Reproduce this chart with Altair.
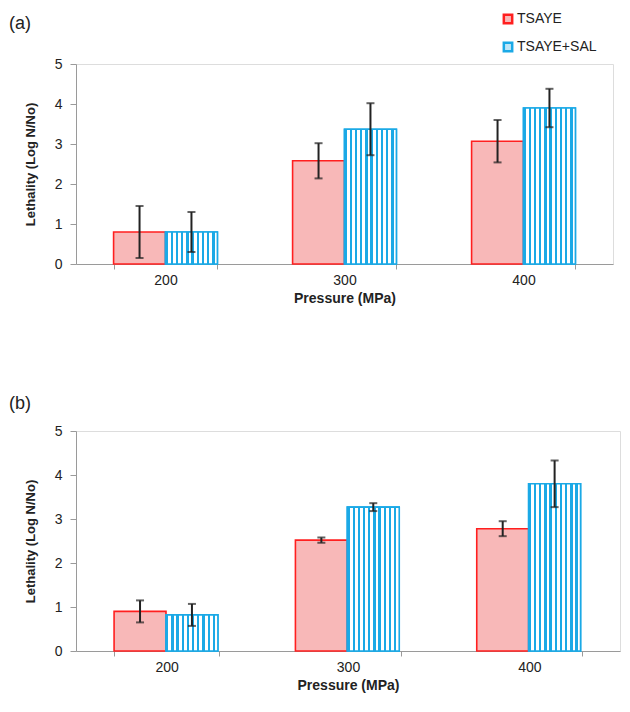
import altair as alt
import pandas as pd

pressure = ["200", "300", "400"]
series_names = ["TSAYE", "TSAYE+SAL"]

a_tsaye = [0.80, 2.58, 3.07]
a_tsaye_err = [0.65, 0.44, 0.53]
a_sal = [0.80, 3.37, 3.90]
a_sal_err = [0.50, 0.65, 0.48]

b_tsaye = [0.90, 2.52, 2.78]
b_tsaye_err = [0.25, 0.06, 0.17]
b_sal = [0.82, 3.27, 3.80]
b_sal_err = [0.25, 0.09, 0.53]

FONT = "Liberation Sans"
RED = "#ff1f1f"
PINK = "#f8b8b8"
BLUE = "#1ba9e6"

# vertical stripes for the blue bars
n = 10
stops = []
for i in range(n):
    a = i / n
    b = a + 0.45 / n
    c = (i + 1) / n
    stops += [
        alt.GradientStop(color=BLUE, offset=a),
        alt.GradientStop(color=BLUE, offset=b),
        alt.GradientStop(color="white", offset=b),
        alt.GradientStop(color="white", offset=c),
    ]
stripes = alt.LinearGradient(gradient="linear", stops=stops, x1=0, x2=1, y1=0, y2=0)


def make_df(t, te, s, se):
    rows = []
    for p, v, e in zip(pressure, t, te):
        rows.append({"p": p, "series": "TSAYE", "v": v, "lo": v - e, "hi": v + e})
    for p, v, e in zip(pressure, s, se):
        rows.append({"p": p, "series": "TSAYE+SAL", "v": v, "lo": v - e, "hi": v + e})
    return pd.DataFrame(rows)


def panel(label, df, w, h, title_offset, legend_x, legend_y):
    x = alt.X("p:N", title="Pressure (MPa)", sort=pressure,
              scale=alt.Scale(paddingInner=0.42, paddingOuter=0.21),
              axis=alt.Axis(labelAngle=0, tickBand="extent", tickSize=5,
                            domainColor="#9a9a9a", tickColor="#9a9a9a",
                            labelFontSize=14, labelColor="#222", labelPadding=4,
                            titleFontSize=14, titleFontWeight="bold",
                            titleColor="#222", titlePadding=4, labelFont=FONT,
                            titleFont=FONT))
    xo = alt.XOffset("series:N", sort=series_names,
                     scale=alt.Scale(domain=series_names, paddingInner=0, paddingOuter=0))
    y = alt.Y("v:Q", title="Lethality (Log N/No)",
              scale=alt.Scale(domain=[0, 5]),
              axis=alt.Axis(values=[0, 1, 2, 3, 4, 5], tickCount=6, grid=False,
                            tickSize=6, labelOverlap=False,
                            domainColor="#9a9a9a", tickColor="#9a9a9a",
                            labelFontSize=14, labelColor="#222", labelPadding=8,
                            titleFontSize=13, titleFontWeight="bold",
                            titleColor="#222", titlePadding=17, labelFont=FONT,
                            titleFont=FONT))
    leg = dict(title=None, orient="none", legendX=legend_x, legendY=legend_y,
               symbolType="square", symbolSize=70, symbolStrokeWidth=2.5,
               labelFontSize=14, labelFont=FONT, labelColor="#222",
               rowPadding=8, labelOffset=2)
    base = alt.Chart(df)
    bars = base.mark_bar(strokeWidth=1.6).encode(
        x=x, xOffset=xo, y=y,
        fill=alt.Fill("series:N", sort=series_names,
                      scale=alt.Scale(domain=series_names, range=[PINK, "#bfe6f7"]),
                      legend=alt.Legend(**leg)),
        stroke=alt.Stroke("series:N", sort=series_names,
                          scale=alt.Scale(domain=series_names, range=[RED, BLUE]),
                          legend=alt.Legend(**leg)),
    )
    striped = base.transform_filter(alt.datum.series == "TSAYE+SAL").mark_bar(
        fill=stripes, stroke=BLUE, strokeWidth=1.6
    ).encode(x=x, xOffset=xo, y=y)
    rule = base.mark_rule(color="#222", strokeWidth=2).encode(
        x=x, xOffset=xo, y="lo:Q", y2="hi:Q")
    cap_lo = base.mark_tick(color="#222", thickness=2, size=8).encode(
        x=x, xOffset=xo, y="lo:Q")
    cap_hi = base.mark_tick(color="#222", thickness=2, size=8).encode(
        x=x, xOffset=xo, y="hi:Q")
    return alt.layer(bars, striped, rule, cap_lo, cap_hi).properties(
        width=w, height=h,
        title=alt.TitleParams(label, anchor="start", frame="group", dx=-67,
                              fontSize=18, fontWeight="normal", font=FONT,
                              color="#222", offset=title_offset),
    )


top = panel("(a)", make_df(a_tsaye, a_tsaye_err, a_sal, a_sal_err), 537, 200, 24, 425, -52)
bottom = panel("(b)", make_df(b_tsaye, b_tsaye_err, b_sal, b_sal_err), 544, 220, 11, 442, -30)

chart = alt.vconcat(top, bottom, spacing=88).properties(
    padding={"left": 0, "top": 4, "right": 0, "bottom": 0}
).configure_view(stroke=None).configure(font=FONT)

chart.save("out.html", embed_options={"renderer": "svg", "actions": False})
